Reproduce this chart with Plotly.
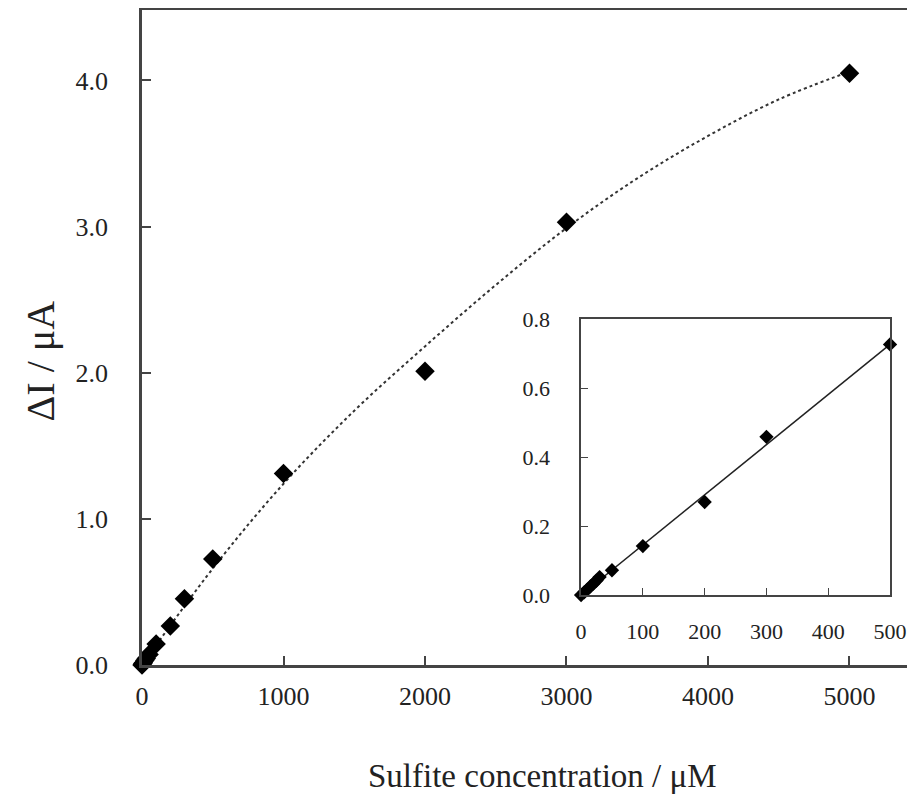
import plotly.graph_objects as go

# Main plot data (sulfite concentration in µM, ΔI in µA)
main_x = [0, 5, 10, 20, 30, 50, 100, 200, 300, 500, 1000, 2000, 3000, 5000]
main_y = [0.0, 0.008, 0.015, 0.03, 0.045, 0.072, 0.143, 0.267, 0.454, 0.726, 1.31, 2.01, 3.03, 4.05]

# Fitted trend curve
curve_x = [0, 500, 1000, 1500, 2000, 2500, 3000, 3500, 4000, 4500, 5000]
curve_y = [0.0, 0.66, 1.24, 1.74, 2.18, 2.60, 2.99, 3.33, 3.62, 3.87, 4.06]

# Inset data
inset_x = [0, 5, 10, 15, 20, 25, 30, 50, 100, 200, 300, 500]
inset_y = [0.0, 0.008, 0.016, 0.025, 0.033, 0.042, 0.052, 0.072, 0.142, 0.270, 0.459, 0.727]
inset_line_x = [0, 500]
inset_line_y = [0.0, 0.727]

main_xticks = [0, 1000, 2000, 3000, 4000, 5000]
main_yticks = [0, 1, 2, 3, 4]
main_ytick_text = ["0.0", "1.0", "2.0", "3.0", "4.0"]
inset_xticks = [0, 100, 200, 300, 400, 500]
inset_yticks = [0, 0.2, 0.4, 0.6, 0.8]
inset_ytick_text = ["0.0", "0.2", "0.4", "0.6", "0.8"]

FONT = "Liberation Serif, Times New Roman, serif"
AX = "#444444"
TXT = "#222222"

fig = go.Figure()

fig.add_trace(go.Scatter(x=curve_x, y=curve_y, mode="lines", line=dict(color="#333333", width=2, dash="dot", shape="spline"),
                         xaxis="x", yaxis="y", showlegend=False))
fig.add_trace(go.Scatter(x=main_x, y=main_y, mode="markers", marker=dict(symbol="diamond", size=15, color="black"),
                         cliponaxis=False, xaxis="x", yaxis="y", showlegend=False))

fig.add_trace(go.Scatter(x=inset_line_x, y=inset_line_y, mode="lines", line=dict(color="#222222", width=1.5),
                         xaxis="x2", yaxis="y2", showlegend=False))
fig.add_trace(go.Scatter(x=inset_x, y=inset_y, mode="markers", marker=dict(symbol="diamond", size=11, color="black"),
                         cliponaxis=False, xaxis="x2", yaxis="y2", showlegend=False))

fig.update_layout(
    width=907, height=792,
    margin=dict(l=134, r=0, t=1.5, b=135, autoexpand=False),
    paper_bgcolor="white", plot_bgcolor="white",
    font=dict(family=FONT, color=TXT),
    xaxis=dict(range=[0, 5463], domain=[0, 1], tickvals=main_xticks, ticks="inside", ticklen=9, tickwidth=1.5,
               tickcolor=AX, showline=True, linecolor=AX, linewidth=2.5, mirror=True, showgrid=False, zeroline=False,
               automargin=False, tickfont=dict(size=26, family=FONT, color=TXT), ticklabelstandoff=6),
    yaxis=dict(range=[0, 4.482], domain=[0, 1], tickvals=main_yticks, ticktext=main_ytick_text, ticks="inside",
               ticklen=9, tickwidth=1.5, tickcolor=AX, showline=True, linecolor=AX, linewidth=2.5, mirror=False,
               showgrid=False, zeroline=False, automargin=False, tickfont=dict(size=26, family=FONT, color=TXT),
               ticklabelstandoff=26),
    xaxis2=dict(range=[0, 500], domain=[0.568, 0.9677], anchor="y2", tickvals=inset_xticks, ticks="inside",
                ticklen=7, tickwidth=1.2, tickcolor=AX, showline=True, linecolor=AX, linewidth=1.5, mirror=True,
                showgrid=False, zeroline=False, automargin=False, tickfont=dict(size=22, family=FONT, color=TXT),
                ticklabelstandoff=16),
    yaxis2=dict(range=[0, 0.8], domain=[0.1068, 0.5278], anchor="x2", tickvals=inset_yticks, ticktext=inset_ytick_text,
                ticks="inside", ticklen=7, tickwidth=1.2, tickcolor=AX, showline=True, linecolor=AX, linewidth=1.5,
                mirror=True, showgrid=False, zeroline=False, automargin=False,
                tickfont=dict(size=22, family=FONT, color=TXT), ticklabelstandoff=25),
    annotations=[
        dict(text="Sulfite concentration / μM", xref="paper", yref="paper", x=0.5175, y=-0.1693,
             xanchor="center", yanchor="middle", showarrow=False, font=dict(size=33, family=FONT, color=TXT)),
        dict(text="ΔI / μA", xref="paper", yref="paper", x=-0.132, y=0.465,
             xanchor="center", yanchor="middle", textangle=-90, showarrow=False,
             font=dict(size=40, family=FONT, color=TXT)),
    ],
)

fig.write_html("out.html")
